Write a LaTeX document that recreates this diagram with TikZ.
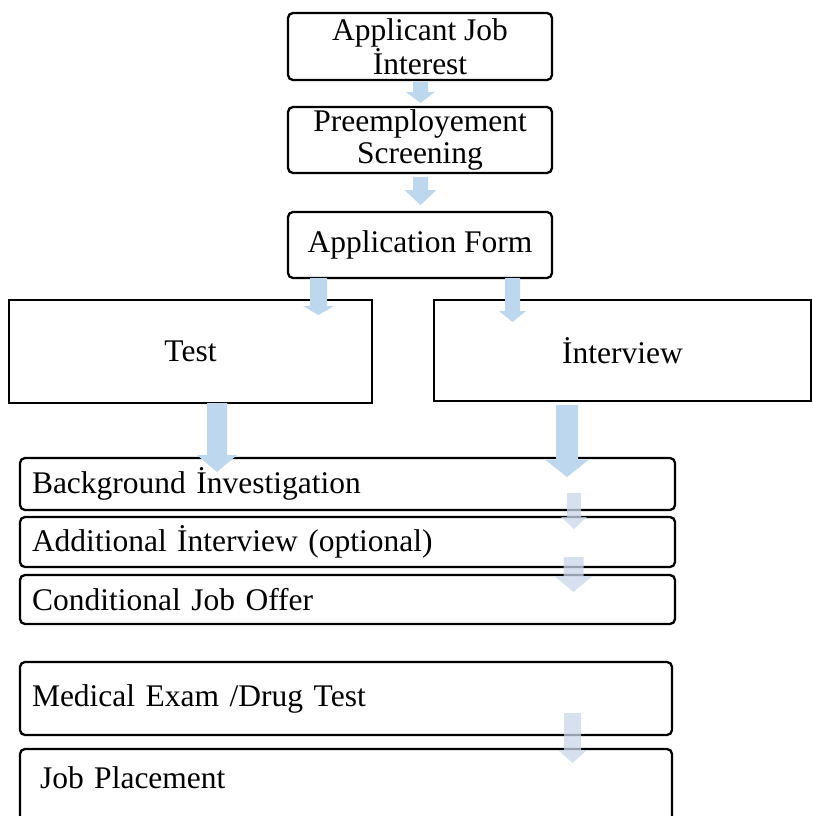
\documentclass[tikz,border=0pt]{standalone}
\usepackage{fontspec}
\setmainfont{Liberation Serif}
\usetikzlibrary{calc}
\definecolor{arrowblue}{HTML}{BDD7EE}
\definecolor{paleblue}{HTML}{C9D6E9}
\newcommand{\blkarrow}[6][]{%
  \fill[#1] ($(#2)+(-#4,0)$) -- ($(#3)+(-#4,-#6)$) -- ($(#3)+(-#5,-#6)$) -- (#3)
    -- ($(#3)+(#5,-#6)$) -- ($(#3)+(#4,-#6)$) -- ($(#2)+(#4,0)$) -- cycle;}
\begin{document}
\begin{tikzpicture}[x=1pt,y=-1pt,
  box/.style={draw=black,line width=2.3pt,rounded corners=5pt,fill=none,
    font=\fontsize{31.5}{32}\selectfont,inner sep=0pt,outer sep=0pt},
  sqbox/.style={draw=black,line width=2.3pt,sharp corners,
    font=\fontsize{31.5}{32}\selectfont,inner sep=0pt,outer sep=0pt},
  leftbox/.style={box,align=left,inner xsep=12pt,text width=631pt},
  bigarrow/.style={fill=arrowblue},
  smallarrow/.style={fill=paleblue,fill opacity=0.75}]
\useasboundingbox (0,0) rectangle (813,816);

% top boxes
\node[box,align=center,minimum width=264pt,minimum height=67pt] (b1) at (420,46.5) {Applicant Job\\İnterest};
\node[box,align=center,minimum width=264pt,minimum height=66pt] (b2) at (420,140) {Preemployement\\Screening};
\node[box,align=center,minimum width=264pt,minimum height=66pt] (b3) at (420,245) {Application Form};

% middle boxes
\node[sqbox,minimum width=363pt,minimum height=103pt] (test) at (190.5,351.5) {Test};
\node[sqbox,minimum width=377pt,minimum height=101pt] (intv) at (622.5,350.5) {İnterview};

% lower boxes
\node[leftbox,minimum height=52pt] (bg) at (347.5,484) {Background İnvestigation};
\node[leftbox,minimum height=50pt] (add) at (347.5,542) {Additional İnterview (optional)};
\node[leftbox,minimum height=49pt] (cond) at (347.5,599.5) {Conditional Job Offer};
\node[box,align=left,inner xsep=12pt,text width=628pt,minimum height=73pt] (med) at (346,698.5) {Medical Exam /Drug Test};
\node[box,align=left,anchor=north west,inner xsep=20pt,inner ysep=17pt,text width=612pt,
  text height=22pt,text depth=60pt] (job) at (20,749) {Job Placement};

% arrow coordinates
\coordinate (a1s) at ($(b1.south)+(0.5,2)$);   \coordinate (a1e) at ($(b2.north)+(0.5,-4)$);
\coordinate (a2s) at ($(b2.south)+(0.5,4)$);   \coordinate (a2e) at ($(b3.north)+(0.5,-7)$);
\coordinate (a3s) at (318.5,278);  \coordinate (a3e) at (318.5,315);
\coordinate (a4s) at (512.5,278);  \coordinate (a4e) at (512.5,322);
\coordinate (a5s) at ($(test.south)+(26.5,0)$);  \coordinate (a5e) at (217,472);
\coordinate (a6s) at (567,405);    \coordinate (a6e) at (567,477);
\coordinate (a7s) at (574,493);    \coordinate (a7e) at (574,529);
\coordinate (a8s) at (573.5,557);  \coordinate (a8e) at (573.5,592);
\coordinate (a9s) at (572.5,713);  \coordinate (a9e) at (572.5,763);

\blkarrow[bigarrow]{a1s}{a1e}{7.5}{14.5}{11}
\blkarrow[bigarrow]{a2s}{a2e}{7.5}{16}{15}
\blkarrow[bigarrow]{a3s}{a3e}{8.5}{15.5}{9}
\blkarrow[bigarrow]{a4s}{a4e}{7.5}{13.5}{11}
\blkarrow[bigarrow]{a5s}{a5e}{10}{20}{17}
\blkarrow[bigarrow]{a6s}{a6e}{11}{21.5}{17}
\blkarrow[smallarrow]{a7s}{a7e}{7}{13}{12}
\blkarrow[smallarrow]{a8s}{a8e}{10}{19}{16}
\blkarrow[smallarrow]{a9s}{a9e}{8.5}{14.5}{13}
\end{tikzpicture}
\end{document}
